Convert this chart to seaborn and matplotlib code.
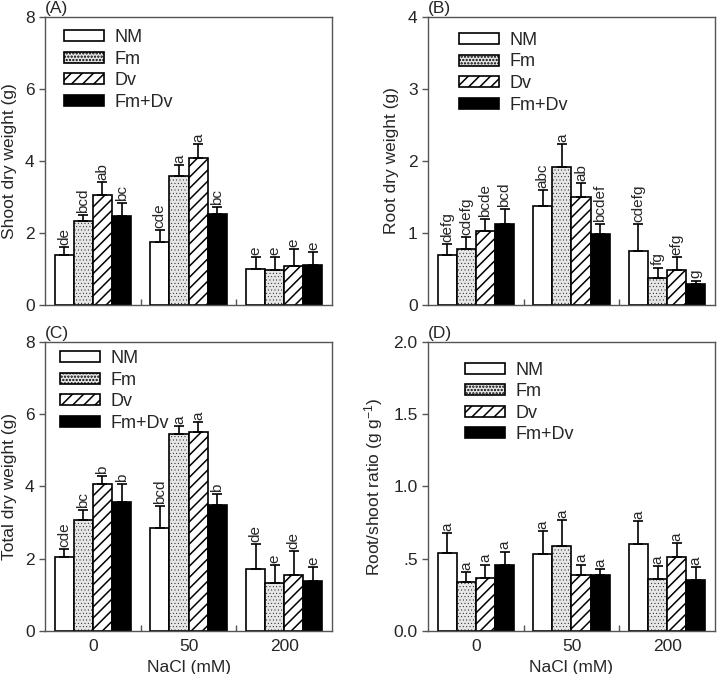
import numpy as np
import pandas as pd
import matplotlib
matplotlib.use('Agg')
import matplotlib.pyplot as plt
from matplotlib.patches import Patch
from matplotlib.ticker import FixedLocator
import seaborn as sns

# NaCl levels and inoculation treatments
nacl = ['0', '50', '200']
treatments = ['NM', 'Fm', 'Dv', 'Fm+Dv']

# (A) shoot dry weight (g)
shoot_nm = [1.40, 1.75, 1.00]
shoot_fm = [2.33, 3.57, 0.98]
shoot_dv = [3.06, 4.07, 1.07]
shoot_fmdv = [2.47, 2.53, 1.11]
shoot_se_nm = [0.20, 0.34, 0.32]
shoot_se_fm = [0.18, 0.33, 0.34]
shoot_se_dv = [0.35, 0.40, 0.48]
shoot_se_fmdv = [0.37, 0.20, 0.35]
shoot_let_nm = ['de', 'cde', 'e']
shoot_let_fm = ['bcd', 'a', 'e']
shoot_let_dv = ['ab', 'a', 'e']
shoot_let_fmdv = ['bc', 'bc', 'e']

# (B) root dry weight (g)
root_nm = [0.69, 1.38, 0.75]
root_fm = [0.78, 1.91, 0.37]
root_dv = [1.03, 1.50, 0.49]
root_fmdv = [1.12, 0.98, 0.29]
root_se_nm = [0.16, 0.22, 0.37]
root_se_fm = [0.17, 0.33, 0.15]
root_se_dv = [0.16, 0.19, 0.18]
root_se_fmdv = [0.21, 0.14, 0.05]
root_let_nm = ['defg', 'abc', 'cdefg']
root_let_fm = ['cdefg', 'a', 'fg']
root_let_dv = ['bcde', 'ab', 'efg']
root_let_fmdv = ['bcd', 'bcdef', 'g']

# (C) total dry weight (g)
total_nm = [2.06, 2.84, 1.73]
total_fm = [3.07, 5.44, 1.34]
total_dv = [4.06, 5.51, 1.55]
total_fmdv = [3.56, 3.48, 1.39]
total_se_nm = [0.20, 0.63, 0.67]
total_se_fm = [0.28, 0.23, 0.48]
total_se_dv = [0.23, 0.28, 0.67]
total_se_fmdv = [0.52, 0.31, 0.38]
total_let_nm = ['cde', 'bcd', 'de']
total_let_fm = ['bc', 'a', 'e']
total_let_dv = ['b', 'a', 'de']
total_let_fmdv = ['b', 'b', 'e']

# (D) root/shoot ratio
ratio_nm = [0.54, 0.53, 0.60]
ratio_fm = [0.34, 0.59, 0.36]
ratio_dv = [0.37, 0.39, 0.51]
ratio_fmdv = [0.46, 0.385, 0.35]
ratio_se_nm = [0.14, 0.16, 0.16]
ratio_se_fm = [0.07, 0.18, 0.09]
ratio_se_dv = [0.09, 0.07, 0.10]
ratio_se_fmdv = [0.09, 0.045, 0.09]
ratio_let = ['a', 'a', 'a']

sns.set_style('ticks')
plt.rcParams['font.family'] = ['Liberation Sans', 'DejaVu Sans']
plt.rcParams['mathtext.default'] = 'regular'
plt.rcParams['hatch.linewidth'] = 1.1

fill = {'NM': 'white', 'Fm': '#e6e6e6', 'Dv': 'white', 'Fm+Dv': 'black'}
hatches = {'NM': '', 'Fm': '.....', 'Dv': '///', 'Fm+Dv': ''}
hatch_lw = {'NM': 1.1, 'Fm': 0.25, 'Dv': 1.1, 'Fm+Dv': 1.1}
frame_col = '#555555'


def style_patch(p, t):
    p.set_hatch(hatches[t])
    if hasattr(p, 'set_hatch_linewidth'):
        p.set_hatch_linewidth(hatch_lw[t])


def make_df(means, ses, lets):
    rows = []
    for t, m, s, l in zip(treatments, means, ses, lets):
        for i, n in enumerate(nacl):
            rows.append({'NaCl': n, 'trt': t, 'val': m[i], 'se': s[i], 'let': l[i]})
    return pd.DataFrame(rows)


panels = [
    ('(A)', 'Shoot dry weight (g)', 8, [0, 2, 4, 6, 8], None,
     make_df([shoot_nm, shoot_fm, shoot_dv, shoot_fmdv],
             [shoot_se_nm, shoot_se_fm, shoot_se_dv, shoot_se_fmdv],
             [shoot_let_nm, shoot_let_fm, shoot_let_dv, shoot_let_fmdv]),
     (0.066, 0.958)),
    ('(B)', 'Root dry weight (g)', 4, [0, 1, 2, 3, 4], None,
     make_df([root_nm, root_fm, root_dv, root_fmdv],
             [root_se_nm, root_se_fm, root_se_dv, root_se_fmdv],
             [root_let_nm, root_let_fm, root_let_dv, root_let_fmdv]),
     (0.108, 0.948)),
    ('(C)', 'Total dry weight (g)', 8, [0, 2, 4, 6, 8], None,
     make_df([total_nm, total_fm, total_dv, total_fmdv],
             [total_se_nm, total_se_fm, total_se_dv, total_se_fmdv],
             [total_let_nm, total_let_fm, total_let_dv, total_let_fmdv]),
     (0.052, 0.972)),
    ('(D)', 'Root/shoot ratio (g g$^{-1}$)', 2, [0, 0.5, 1, 1.5, 2],
     ['0.0', '.5', '1.0', '1.5', '2.0'],
     make_df([ratio_nm, ratio_fm, ratio_dv, ratio_fmdv],
             [ratio_se_nm, ratio_se_fm, ratio_se_dv, ratio_se_fmdv],
             [ratio_let] * 4),
     (0.129, 0.932)),
]

fig = plt.figure(figsize=(7.17, 6.74), dpi=100)
boxes = [[0.0628, 0.5475, 0.4003, 0.4273],
         [0.5969, 0.5475, 0.4003, 0.4273],
         [0.0628, 0.0638, 0.4003, 0.4288],
         [0.5969, 0.0638, 0.4003, 0.4288]]

for k, (tag, ylab, ymax, yt, ytl, df, leg_xy) in enumerate(panels):
    ax = fig.add_axes(boxes[k])
    sns.barplot(data=df, x='NaCl', y='val', hue='trt', order=nacl,
                hue_order=treatments, errorbar=None, width=0.8,
                palette=fill, edgecolor='black', linewidth=1.2,
                legend=False, ax=ax)

    for t, cont in zip(treatments, ax.containers):
        sub = df[df['trt'] == t].set_index('NaCl').loc[nacl]
        xs = []
        for bar in cont.patches:
            style_patch(bar, t)
            xs.append(bar.get_x() + bar.get_width() / 2)
        xs = np.array(xs)
        ax.errorbar(xs, sub['val'].values, yerr=[np.zeros(3), sub['se'].values],
                    fmt='none', ecolor='black', elinewidth=1.2, capsize=3.6,
                    capthick=1.2, zorder=3)
        for x, v, s, l in zip(xs, sub['val'].values, sub['se'].values, sub['let'].values):
            ax.annotate(l, (x, v + s), xytext=(0, 1.5), textcoords='offset points',
                        rotation=90, ha='center', va='bottom', fontsize=11)

    ax.set_xlim(-0.5, 2.5)
    ax.set_ylim(0, ymax)
    ax.set_yticks(yt)
    if ytl is not None:
        ax.set_yticklabels(ytl)
    ax.set_ylabel(ylab, fontsize=12.5, labelpad=6)

    # category labels without marks, small inward ticks between groups
    ax.xaxis.set_major_locator(FixedLocator([0, 1, 2]))
    ax.xaxis.set_minor_locator(FixedLocator([0.5, 1.5]))
    ax.tick_params(axis='x', which='major', length=0, pad=6)
    ax.tick_params(axis='x', which='minor', direction='in', length=4,
                   color=frame_col, width=1)
    ax.tick_params(axis='y', direction='out', length=4, color=frame_col,
                   width=1, labelsize=12.5)
    if k >= 2:
        ax.set_xticklabels(nacl, fontsize=12.5)
        ax.set_xlabel('NaCl (mM)', fontsize=12.5, labelpad=4)
    else:
        ax.set_xticklabels([])
        ax.set_xlabel('')

    for sp in ax.spines.values():
        sp.set_visible(True)
        sp.set_color(frame_col)
        sp.set_linewidth(1.0)

    ax.text(0.0, 1.005, tag, transform=ax.transAxes, ha='left', va='bottom',
            fontsize=12.5)

    handles = []
    for t in treatments:
        h = Patch(facecolor=fill[t], edgecolor='black', linewidth=1.2, label=t)
        style_patch(h, t)
        handles.append(h)
    ax.legend(handles=handles, loc='upper left', bbox_to_anchor=leg_xy,
              frameon=False, fontsize=13, borderpad=0, borderaxespad=0,
              handlelength=2.2, handleheight=0.55, handletextpad=0.6,
              labelspacing=0.25)

fig.savefig('out.png', dpi=100)
